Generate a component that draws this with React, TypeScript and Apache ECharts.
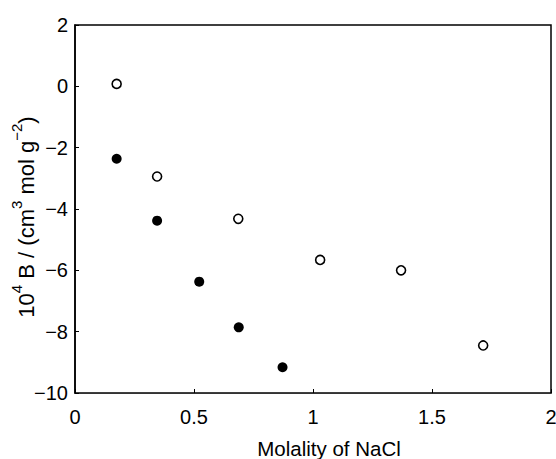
import React, { useEffect, useRef } from "react";
import * as echarts from "echarts";

const openX = [0.175, 0.345, 0.686, 1.03, 1.37, 1.715];
const openY = [0.08, -2.94, -4.32, -5.66, -6.0, -8.45];
const filledX = [0.175, 0.345, 0.522, 0.688, 0.872];
const filledY = [-2.36, -4.38, -6.37, -7.86, -9.16];

const FONT = "Liberation Sans, Arial, Helvetica, sans-serif";

export default function App() {
  const ref = useRef<HTMLDivElement>(null);
  useEffect(() => {
    if (!ref.current) return;
    const chart = echarts.init(ref.current, undefined, { renderer: "svg" });
    chart.setOption({
      animation: false,
      backgroundColor: "#fff",
      grid: {
        left: 75,
        right: 5,
        top: 25,
        bottom: 66,
        containLabel: false,
        outerBoundsMode: "none",
        show: true,
        borderColor: "#000",
        borderWidth: 1.5,
      },
      xAxis: {
        type: "value",
        min: 0,
        max: 2,
        interval: 0.5,
        splitLine: { show: false },
        axisLine: { show: true, onZero: false, lineStyle: { color: "#333", width: 1 } },
        axisTick: { show: true, inside: true, length: 4, lineStyle: { color: "#000" } },
        axisLabel: {
          fontFamily: FONT,
          fontSize: 20,
          color: "#000",
          margin: 14,
          formatter: (v: number) => String(v),
        },
        name: "Molality of NaCl",
        nameLocation: "middle",
        nameGap: 45,
        nameMoveOverlap: false,
        nameTextStyle: {
          fontFamily: FONT,
          fontSize: 20.5,
          color: "#000",
          verticalAlign: "top",
          padding: [0, 0, 0, 32],
        },
      },
      yAxis: {
        type: "value",
        min: -10,
        max: 2,
        interval: 2,
        splitLine: { show: false },
        axisLine: { show: true, onZero: false, lineStyle: { color: "#000", width: 1.5 } },
        axisTick: { show: true, inside: true, length: 4, lineStyle: { color: "#000" } },
        axisLabel: {
          fontFamily: FONT,
          fontSize: 20,
          color: "#000",
          margin: 7,
          formatter: (v: number) => (v < 0 ? "\u2212" + Math.abs(v) : String(v)),
        },
        name: "{n|10}{s|4}{n| B / (cm}{s|3}{n| mol g}{s|\u22122}{n|)}",
        nameLocation: "middle",
        nameGap: 38,
        nameMoveOverlap: false,
        nameTextStyle: {
          fontFamily: FONT,
          fontSize: 22,
          color: "#000",
          padding: [0, 16, 0, 0],
          rich: {
            n: { fontFamily: FONT, fontSize: 22, color: "#000", lineHeight: 28, verticalAlign: "bottom" },
            s: { fontFamily: FONT, fontSize: 15, color: "#000", lineHeight: 28, verticalAlign: "top" },
          },
        },
      },
      series: [
        {
          type: "scatter",
          name: "open",
          data: openX.map((x, i) => [x, openY[i]]),
          symbol: "circle",
          symbolSize: 9,
          itemStyle: { color: "#fff", borderColor: "#000", borderWidth: 1.6, opacity: 1 },
        },
        {
          type: "scatter",
          name: "filled",
          data: filledX.map((x, i) => [x, filledY[i]]),
          symbol: "circle",
          symbolSize: 10,
          itemStyle: { color: "#000", opacity: 1 },
        },
      ],
    });
    return () => chart.dispose();
  }, []);
  return <div ref={ref} style={{ width: 556, height: 459, position: "absolute", left: 0, top: 0 }} />;
}
